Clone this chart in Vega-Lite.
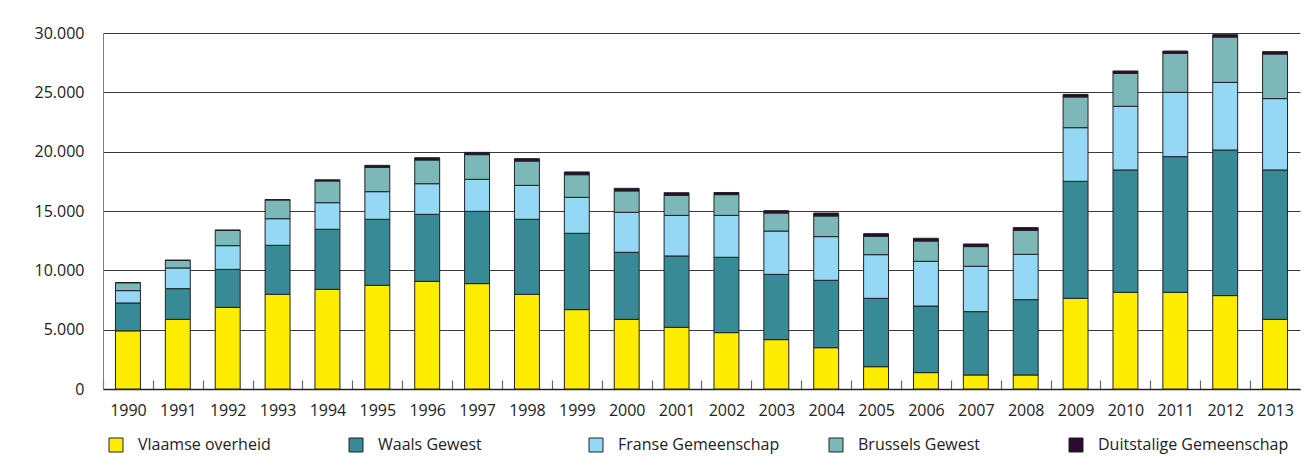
{
  "$schema": "https://vega.github.io/schema/vega-lite/v6.json",
  "autosize": {"type": "none"},
  "width": 1197,
  "height": 356,
  "padding": {"left": 103, "top": 33, "right": 14, "bottom": 81},
  "background": "white",
  "data": {
    "values": [
      {"jaar": "1990", "Vlaamse overheid": 4900, "Waals Gewest": 2350, "Franse Gemeenschap": 1040, "Brussels Gewest": 670, "Duitstalige Gemeenschap": 0},
      {"jaar": "1991", "Vlaamse overheid": 5870, "Waals Gewest": 2585, "Franse Gemeenschap": 1745, "Brussels Gewest": 640, "Duitstalige Gemeenschap": 10},
      {"jaar": "1992", "Vlaamse overheid": 6880, "Waals Gewest": 3200, "Franse Gemeenschap": 2000, "Brussels Gewest": 1290, "Duitstalige Gemeenschap": 20},
      {"jaar": "1993", "Vlaamse overheid": 7980, "Waals Gewest": 4130, "Franse Gemeenschap": 2240, "Brussels Gewest": 1580, "Duitstalige Gemeenschap": 40},
      {"jaar": "1994", "Vlaamse overheid": 8400, "Waals Gewest": 5060, "Franse Gemeenschap": 2240, "Brussels Gewest": 1830, "Duitstalige Gemeenschap": 100},
      {"jaar": "1995", "Vlaamse overheid": 8740, "Waals Gewest": 5560, "Franse Gemeenschap": 2330, "Brussels Gewest": 2050, "Duitstalige Gemeenschap": 170},
      {"jaar": "1996", "Vlaamse overheid": 9070, "Waals Gewest": 5650, "Franse Gemeenschap": 2580, "Brussels Gewest": 2000, "Duitstalige Gemeenschap": 190},
      {"jaar": "1997", "Vlaamse overheid": 8880, "Waals Gewest": 6090, "Franse Gemeenschap": 2700, "Brussels Gewest": 2080, "Duitstalige Gemeenschap": 190},
      {"jaar": "1998", "Vlaamse overheid": 7980, "Waals Gewest": 6320, "Franse Gemeenschap": 2860, "Brussels Gewest": 2050, "Duitstalige Gemeenschap": 200},
      {"jaar": "1999", "Vlaamse overheid": 6690, "Waals Gewest": 6430, "Franse Gemeenschap": 3030, "Brussels Gewest": 1910, "Duitstalige Gemeenschap": 230},
      {"jaar": "2000", "Vlaamse overheid": 5870, "Waals Gewest": 5650, "Franse Gemeenschap": 3370, "Brussels Gewest": 1800, "Duitstalige Gemeenschap": 220},
      {"jaar": "2001", "Vlaamse overheid": 5200, "Waals Gewest": 6010, "Franse Gemeenschap": 3420, "Brussels Gewest": 1690, "Duitstalige Gemeenschap": 220},
      {"jaar": "2002", "Vlaamse overheid": 4750, "Waals Gewest": 6350, "Franse Gemeenschap": 3530, "Brussels Gewest": 1750, "Duitstalige Gemeenschap": 180},
      {"jaar": "2003", "Vlaamse overheid": 4160, "Waals Gewest": 5500, "Franse Gemeenschap": 3650, "Brussels Gewest": 1520, "Duitstalige Gemeenschap": 200},
      {"jaar": "2004", "Vlaamse overheid": 3480, "Waals Gewest": 5680, "Franse Gemeenschap": 3680, "Brussels Gewest": 1740, "Duitstalige Gemeenschap": 250},
      {"jaar": "2005", "Vlaamse overheid": 1880, "Waals Gewest": 5760, "Franse Gemeenschap": 3680, "Brussels Gewest": 1550, "Duitstalige Gemeenschap": 220},
      {"jaar": "2006", "Vlaamse overheid": 1380, "Waals Gewest": 5610, "Franse Gemeenschap": 3770, "Brussels Gewest": 1710, "Duitstalige Gemeenschap": 230},
      {"jaar": "2007", "Vlaamse overheid": 1180, "Waals Gewest": 5340, "Franse Gemeenschap": 3820, "Brussels Gewest": 1660, "Duitstalige Gemeenschap": 220},
      {"jaar": "2008", "Vlaamse overheid": 1180, "Waals Gewest": 6350, "Franse Gemeenschap": 3820, "Brussels Gewest": 2020, "Duitstalige Gemeenschap": 230},
      {"jaar": "2009", "Vlaamse overheid": 7640, "Waals Gewest": 9860, "Franse Gemeenschap": 4520, "Brussels Gewest": 2590, "Duitstalige Gemeenschap": 220},
      {"jaar": "2010", "Vlaamse overheid": 8150, "Waals Gewest": 10310, "Franse Gemeenschap": 5360, "Brussels Gewest": 2780, "Duitstalige Gemeenschap": 200},
      {"jaar": "2011", "Vlaamse overheid": 8150, "Waals Gewest": 11430, "Franse Gemeenschap": 5420, "Brussels Gewest": 3290, "Duitstalige Gemeenschap": 190},
      {"jaar": "2012", "Vlaamse overheid": 7870, "Waals Gewest": 12270, "Franse Gemeenschap": 5700, "Brussels Gewest": 3820, "Duitstalige Gemeenschap": 200},
      {"jaar": "2013", "Vlaamse overheid": 5870, "Waals Gewest": 12590, "Franse Gemeenschap": 6010, "Brussels Gewest": 3760, "Duitstalige Gemeenschap": 200}
    ]
  },
  "transform": [
    {"fold": ["Vlaamse overheid", "Waals Gewest", "Franse Gemeenschap", "Brussels Gewest", "Duitstalige Gemeenschap"], "as": ["overheid", "waarde"]},
    {"calculate": "indexof(['Vlaamse overheid', 'Waals Gewest', 'Franse Gemeenschap', 'Brussels Gewest', 'Duitstalige Gemeenschap'], datum.overheid)", "as": "volgorde"}
  ],
  "mark": {"type": "bar", "stroke": "#222222", "strokeWidth": 1},
  "encoding": {
    "x": {
      "field": "jaar",
      "type": "ordinal",
      "scale": {"paddingInner": 0.5, "paddingOuter": 0.25},
      "axis": {
        "title": null,
        "labelAngle": 0,
        "labelFont": "Open Sans",
        "labelFontSize": 16,
        "labelColor": "#222222",
        "labelPadding": 22,
        "domainColor": "#222222",
        "domainWidth": 1.5,
        "ticks": true,
        "tickColor": "#666666",
        "tickSize": -9,
        "tickWidth": 1.2,
        "tickOffset": -24.94,
        "labelOffset": 24.94
      }
    },
    "y": {
      "field": "waarde",
      "type": "quantitative",
      "stack": "zero",
      "scale": {"domain": [0, 30000], "nice": false},
      "axis": {
        "title": null,
        "values": [0, 5000, 10000, 15000, 20000, 25000, 30000],
        "labelExpr": "replace(format(datum.value, ','), ',', '.')",
        "labelFont": "Open Sans",
        "labelFontSize": 16,
        "labelColor": "#222222",
        "labelPadding": 19,
        "ticks": false,
        "tickSize": 0,
        "domainColor": "#808080",
        "domainWidth": 1,
        "grid": true,
        "gridColor": "#3a3a3a",
        "gridWidth": 1,
        "gridOpacity": 1
      }
    },
    "order": {"field": "volgorde", "type": "quantitative", "sort": "ascending"},
    "color": {
      "field": "overheid",
      "type": "nominal",
      "sort": ["Vlaamse overheid", "Waals Gewest", "Franse Gemeenschap", "Brussels Gewest", "Duitstalige Gemeenschap"],
      "scale": {
        "domain": ["Vlaamse overheid", "Waals Gewest", "Franse Gemeenschap", "Brussels Gewest", "Duitstalige Gemeenschap"],
        "range": ["#ffed00", "#388a96", "#94d8f5", "#7db8b9", "#2b0b30"]
      },
      "legend": {
        "title": null,
        "orient": "none",
        "legendX": 5,
        "legendY": 404,
        "direction": "horizontal",
        "columns": 5,
        "gridAlign": "all",
        "columnPadding": 18,
        "symbolType": "square",
        "symbolSize": 196,
        "symbolStrokeColor": "#222222",
        "symbolStrokeWidth": 1,
        "symbolOpacity": 1,
        "labelFont": "Open Sans",
        "labelFontSize": 16,
        "labelColor": "#222222",
        "labelOffset": 14,
        "labelLimit": 400
      }
    }
  },
  "config": {"view": {"stroke": null}}
}
